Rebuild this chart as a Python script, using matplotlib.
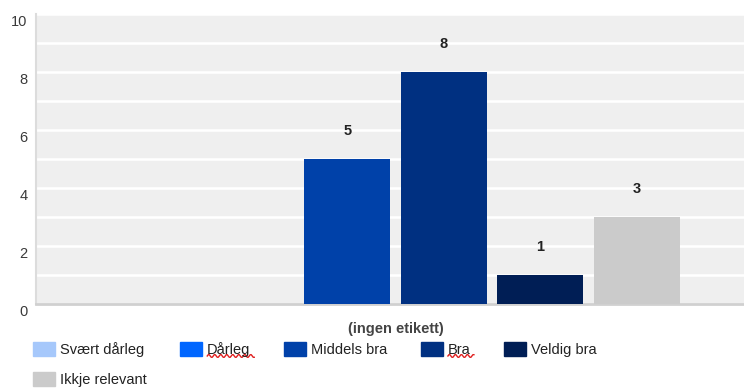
import numpy as np
import matplotlib
matplotlib.use("Agg")
import matplotlib.pyplot as plt
import matplotlib.transforms as mtransforms
from matplotlib.patches import Patch
from matplotlib.lines import Line2D

plt.rcParams['font.family'] = ['Liberation Sans', 'DejaVu Sans']

category = "(ingen etikett)"
series = ["Svært dårleg", "Dårleg", "Middels bra", "Bra", "Veldig bra", "Ikkje relevant"]
values = [0, 0, 5, 8, 1, 3]
colors = ["#a6c8fb", "#0066ff", "#0041a9", "#003081", "#001e55", "#cbcbcb"]
yticks = [0, 2, 4, 6, 8, 10]
spellcheck_marked = ["Dårleg", "Bra"]

W, H = 744, 390
fig = plt.figure(figsize=(W / 100, H / 100), dpi=100)
left, right, top, bottom = 36, 755, 14, 304
ax = fig.add_axes([left / W, 1 - bottom / H, (right - left) / W, (bottom - top) / H])
ax.set_facecolor("#efefef")
ax.set_xlim(-0.5, 0.5)
ax.set_ylim(0, 10)

pitch = 96.6 / (right - left)
width = 86 / (right - left)
n = len(series)
for i, (name, v, c) in enumerate(zip(series, values, colors)):
    x = (i - (n - 1) / 2) * pitch
    ax.bar(x, v, width=width, color=c, zorder=3, label=name)
    if v > 0:
        ax.annotate(str(v), (x, v), xytext=(0, 28), textcoords="offset pixels",
                    ha="center", va="center", fontsize=10.5, fontweight="bold", color="#222222")

ax.set_yticks(yticks)
ax.set_yticks(np.arange(0, 11, 1), minor=True)
ax.grid(True, which="both", axis="y", color="white", linewidth=1.8, zorder=1)
ax.tick_params(axis="y", which="both", length=0, pad=6, labelsize=10.5, labelcolor="#3a3a3a")
ax.set_xticks([])
offset = mtransforms.ScaledTranslation(0, -0.06, fig.dpi_scale_trans)
for lab in ax.get_yticklabels():
    lab.set_transform(lab.get_transform() + offset)

for s in ["top", "right"]:
    ax.spines[s].set_visible(False)
ax.spines["left"].set_color("#dcdcdc")
ax.spines["left"].set_linewidth(1.5)
ax.spines["bottom"].set_color("#d0d0d0")
ax.spines["bottom"].set_linewidth(2)

fig.text(396 / W, 1 - 329 / H, category, ha="center", va="center",
         fontsize=10.5, fontweight="bold", color="#444444")

handles = [Patch(facecolor=c, edgecolor=c, label=s) for s, c in zip(series, colors)]
# legend fills column by column: first column holds items 0 and 5
order = [0, 5, 1, 2, 3, 4]
handles = [handles[k] for k in order]
leg = fig.legend(handles=handles, ncol=5, loc="upper left", bbox_to_anchor=(33 / W, 1 - 342 / H),
                 frameon=False, fontsize=10.5, handlelength=1.5, handleheight=1.1,
                 handletextpad=0.35, columnspacing=2.3, labelspacing=1.0, borderpad=0,
                 borderaxespad=0, labelcolor="#222222")

# red spell-check squiggles under some legend words
fig.canvas.draw()
renderer = fig.canvas.get_renderer()
for t in leg.get_texts():
    if t.get_text() in spellcheck_marked:
        bb = t.get_window_extent(renderer)
        xs = np.arange(bb.x0, bb.x1 + 4, 1.0)
        ys = bb.y0 + 1.0 + 1.5 * np.sin((xs - bb.x0) * np.pi / 3.0)
        fig.add_artist(Line2D(xs / W, ys / H, transform=fig.transFigure,
                              color="#e02020", linewidth=1.0))

fig.savefig("out.png", dpi=100)
